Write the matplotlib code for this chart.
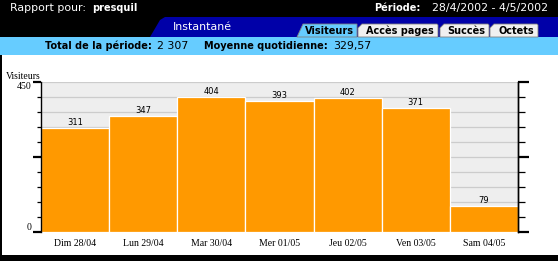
import numpy as np
from matplotlib import pyplot as plt, ticker
from matplotlib.patches import Rectangle, Polygon

# data
days = ['Dim 28/04', 'Lun 29/04', 'Mar 30/04', 'Mer 01/05', 'Jeu 02/05', 'Ven 03/05', 'Sam 04/05']
visitors = [311, 347, 404, 393, 402, 371, 79]
y_max = 450
y_step = 45
tabs = ['Visiteurs', 'Accès pages', 'Succès', 'Octets']
total_label = 'Total de la période:'
total_value = '2 307'
mean_label = 'Moyenne quotidienne:'
mean_value = '329,57'

W, H = 558, 261
DPI = 100
BLACK = '#000000'
DARK_BLUE = '#0000A8'
LIGHT_BLUE = '#66CCFF'
ORANGE = '#FF9900'
PLOT_BG = '#EEEEEE'
GRID = '#CCCCCC'
SANS = 'DejaVu Sans'
SERIF = 'Liberation Serif'
FS_REG = 7.9
FS_BOLD = 7.0

fig = plt.figure(figsize=(W / DPI, H / DPI), dpi=DPI)
fig.patch.set_facecolor('white')

# page decoration in pixel coordinates
bg = fig.add_axes([0, 0, 1, 1], zorder=0)
bg.set_xlim(0, W)
bg.set_ylim(H, 0)
bg.axis('off')

bg.add_patch(Rectangle((0, 0), W, 37, color=BLACK, lw=0))
bg.add_patch(Polygon([(150, 37), (160, 20), (165, 17), (W, 17), (W, 37)], closed=True, color=DARK_BLUE, lw=0))
bg.add_patch(Rectangle((0, 37), W, 18, color=LIGHT_BLUE, lw=0))
bg.add_patch(Rectangle((0, 55), 2, 200, color=BLACK, lw=0))
bg.add_patch(Rectangle((0, 255), W, 6, color=BLACK, lw=0))

bg.text(10, 8, 'Rapport pour:', color='white', fontsize=FS_REG, family=SANS, va='center', ha='left')
bg.text(92, 8, 'presquil', color='white', fontsize=FS_BOLD, family=SANS, weight='bold', va='center', ha='left')
bg.text(374, 8, 'Période:', color='white', fontsize=FS_BOLD, family=SANS, weight='bold', va='center', ha='left')
bg.text(548, 8, '28/4/2002 - 4/5/2002', color='white', fontsize=FS_REG, family=SANS, va='center', ha='right')
bg.text(202, 27.5, 'Instantané', color='white', fontsize=FS_REG, family=SANS, va='center', ha='center')

tab_x = [(297, 357), (358, 438), (440, 489), (490, 538)]
for i, (name, (x0, x1)) in enumerate(zip(tabs, tab_x)):
    if i == 0:
        pts = [(x0, 37), (x0 + 6, 24), (x1, 24), (x1, 37)]
        fc = LIGHT_BLUE
    else:
        pts = [(x0, 37), (x0, 28), (x0 + 4, 24), (x1 - 1, 24), (x1, 25), (x1, 37)]
        fc = '#F0F0F0'
    bg.add_patch(Polygon(pts, closed=True, facecolor=fc, edgecolor='#808080', lw=0.6))
    bg.text((x0 + x1) / 2 + 2, 30.5, name, color=BLACK, fontsize=FS_BOLD, family=SANS,
            weight='bold', va='center', ha='center')

bg.text(45, 46, total_label, fontsize=FS_BOLD, family=SANS, weight='bold', va='center', ha='left')
bg.text(157, 46, total_value, fontsize=FS_REG, family=SANS, va='center', ha='left')
bg.text(204, 46, mean_label, fontsize=FS_BOLD, family=SANS, weight='bold', va='center', ha='left')
bg.text(333, 46, mean_value, fontsize=FS_REG, family=SANS, va='center', ha='left')
bg.text(6, 76.5, 'Visiteurs', fontsize=7, family=SERIF, va='center', ha='left')

# chart
left, right, top, bottom = 41, 518, 82, 232
ax = fig.add_axes([left / W, 1 - bottom / H, (right - left) / W, (bottom - top) / H], zorder=1)
ax.set_facecolor(PLOT_BG)

x = np.arange(len(days))
ax.bar(x, visitors, width=1.0, color=ORANGE, edgecolor='white', linewidth=0.9, zorder=2)
for xi, v in zip(x, visitors):
    ax.annotate(str(v), (xi, v), xytext=(0, 0.8), textcoords='offset points',
                ha='center', va='bottom', fontsize=6, family=SANS, zorder=3)

ax.set_xlim(-0.5, len(days) - 0.5)
ax.set_ylim(0, y_max)
ax.set_xticks(x)
ax.set_xticklabels(days, family=SERIF, fontsize=7)
ax.tick_params(axis='x', length=0, pad=5)

ax.yaxis.set_major_locator(ticker.FixedLocator([0, y_max / 2, y_max]))
ax.yaxis.set_minor_locator(ticker.MultipleLocator(y_step))
ax.set_yticklabels(['0', '', '450'], family=SERIF, fontsize=7)
ax.get_yticklabels()[0].set_va('bottom')
ax.get_yticklabels()[2].set_va('top')
ax.tick_params(axis='y', which='major', direction='out', length=6, width=1.6, pad=1)
ax.tick_params(axis='y', which='minor', direction='out', length=3, width=0.9)

for yv in np.arange(y_step, y_max + 1, y_step):
    ax.axhline(yv, color=GRID, lw=0.9, zorder=1)

for s in ['top', 'bottom']:
    ax.spines[s].set_visible(False)
ax.spines['left'].set_linewidth(1.0)
ax.spines['right'].set_linewidth(1.0)

# right axis ticks
ax2 = ax.twinx()
ax2.set_ylim(0, y_max)
ax2.yaxis.set_major_locator(ticker.FixedLocator([0, y_max / 2, y_max]))
ax2.yaxis.set_minor_locator(ticker.MultipleLocator(y_step))
ax2.set_yticklabels([])
ax2.tick_params(axis='y', which='major', direction='out', length=8, width=1.6)
ax2.tick_params(axis='y', which='minor', direction='out', length=5, width=0.9)
for s in ['top', 'bottom', 'left']:
    ax2.spines[s].set_visible(False)
ax2.spines['right'].set_linewidth(1.0)

plt.savefig('out.png', dpi=DPI)
